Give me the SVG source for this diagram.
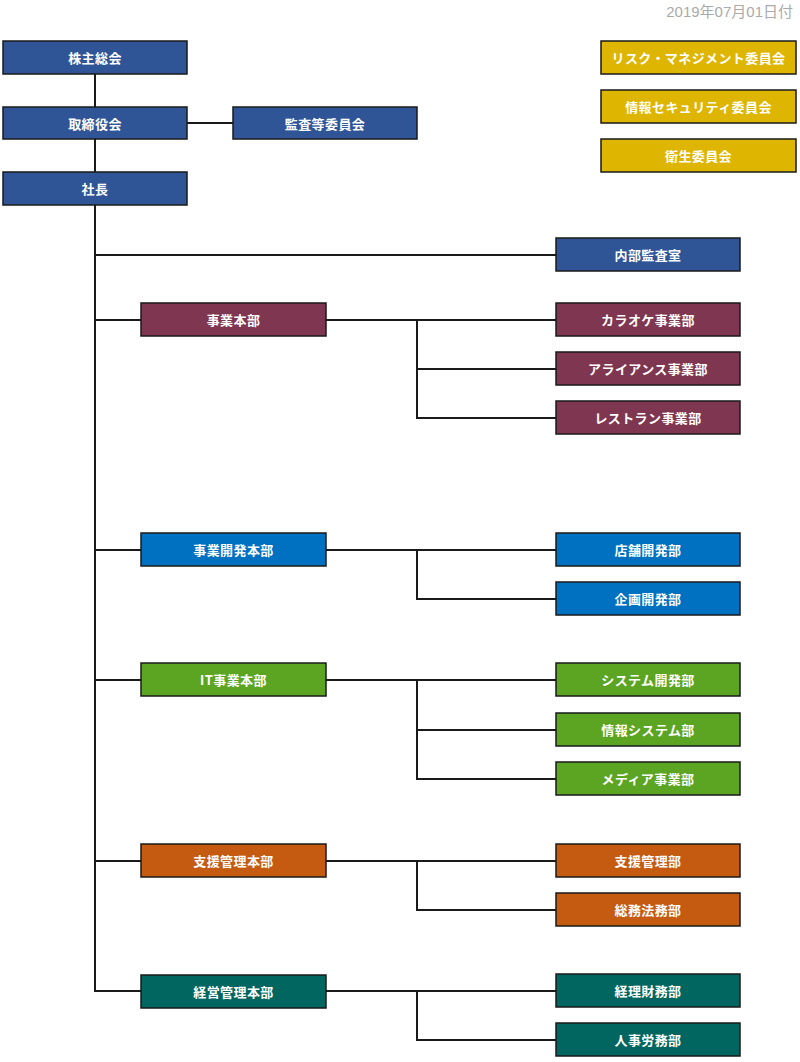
<svg xmlns="http://www.w3.org/2000/svg" width="800" height="1062" viewBox="0 0 800 1062">
<style>
.b{stroke:#1a1a1a;stroke-width:1.5}
.t{fill:#fff;font-family:"Noto Sans CJK JP","Noto Sans",sans-serif;font-size:13px;font-weight:bold;letter-spacing:0.4px;text-anchor:middle;dominant-baseline:central}
.navy{fill:#2F5597}.mar{fill:#7F3650}.blu{fill:#0070C0}.grn{fill:#5BA523}.org{fill:#C55A11}.tea{fill:#00665F}.yel{fill:#DEB500}
.c{stroke:#1a1a1a;stroke-width:2;fill:none}
</style>
<rect width="800" height="1062" fill="#fff"/>
<text x="793" y="11" font-family="'Liberation Sans','Noto Sans CJK JP',sans-serif" font-size="15" fill="#aaaaaa" text-anchor="end" dominant-baseline="central">2019年07月01日付</text>
<g id="connectors">
<path class="c" d="M95 74V107M95 139V172M187 123H233M95 205V991H141"/>
<path class="c" d="M95 255H556M95 320H141M95 550H141M95 680H141M95 861H141"/>
<path class="c" d="M326 320H556M417 320V418H556M417 369H556"/>
<path class="c" d="M326 550H556M417 550V599H556"/>
<path class="c" d="M326 680H556M417 680V779H556M417 730H556"/>
<path class="c" d="M326 861H556M417 861V910H556"/>
<path class="c" d="M326 991H556M417 991V1040H556"/>
</g>
<g id="n1"><rect class="b navy" x="3" y="41" width="184" height="33"/><text class="t" x="95" y="57.5">株主総会</text></g>
<g id="n2"><rect class="b navy" x="3" y="107" width="184" height="32"/><text class="t" x="95" y="123">取締役会</text></g>
<g id="n3"><rect class="b navy" x="233" y="107" width="184" height="32"/><text class="t" x="325" y="123">監査等委員会</text></g>
<g id="n4"><rect class="b navy" x="3" y="172" width="184" height="33"/><text class="t" x="95" y="188.5">社長</text></g>
<g id="y1"><rect class="b yel" x="601" y="41" width="195" height="33"/><text class="t" x="698.5" y="57.5">リスク・マネジメント委員会</text></g>
<g id="y2"><rect class="b yel" x="601" y="90" width="195" height="33"/><text class="t" x="698.5" y="106.5">情報セキュリティ委員会</text></g>
<g id="y3"><rect class="b yel" x="601" y="139" width="195" height="33"/><text class="t" x="698.5" y="155.5">衛生委員会</text></g>
<g id="n5"><rect class="b navy" x="556" y="238" width="184" height="33"/><text class="t" x="648" y="254.5">内部監査室</text></g>
<g id="d1"><rect class="b mar" x="141" y="303" width="185" height="33"/><text class="t" x="233.5" y="319.5">事業本部</text></g>
<g id="d1a"><rect class="b mar" x="556" y="303" width="184" height="33"/><text class="t" x="648" y="319.5">カラオケ事業部</text></g>
<g id="d1b"><rect class="b mar" x="556" y="352" width="184" height="33"/><text class="t" x="648" y="368.5">アライアンス事業部</text></g>
<g id="d1c"><rect class="b mar" x="556" y="401" width="184" height="33"/><text class="t" x="648" y="417.5">レストラン事業部</text></g>
<g id="d2"><rect class="b blu" x="141" y="533" width="185" height="33"/><text class="t" x="233.5" y="549.5">事業開発本部</text></g>
<g id="d2a"><rect class="b blu" x="556" y="533" width="184" height="33"/><text class="t" x="648" y="549.5">店舗開発部</text></g>
<g id="d2b"><rect class="b blu" x="556" y="582" width="184" height="33"/><text class="t" x="648" y="598.5">企画開発部</text></g>
<g id="d3"><rect class="b grn" x="141" y="663" width="185" height="33"/><text class="t" x="233.5" y="679.5">IT事業本部</text></g>
<g id="d3a"><rect class="b grn" x="556" y="663" width="184" height="33"/><text class="t" x="648" y="679.5">システム開発部</text></g>
<g id="d3b"><rect class="b grn" x="556" y="713" width="184" height="33"/><text class="t" x="648" y="729.5">情報システム部</text></g>
<g id="d3c"><rect class="b grn" x="556" y="762" width="184" height="33"/><text class="t" x="648" y="778.5">メディア事業部</text></g>
<g id="d4"><rect class="b org" x="141" y="844" width="185" height="33"/><text class="t" x="233.5" y="860.5">支援管理本部</text></g>
<g id="d4a"><rect class="b org" x="556" y="844" width="184" height="33"/><text class="t" x="648" y="860.5">支援管理部</text></g>
<g id="d4b"><rect class="b org" x="556" y="893" width="184" height="33"/><text class="t" x="648" y="909.5">総務法務部</text></g>
<g id="d5"><rect class="b tea" x="141" y="975" width="185" height="33"/><text class="t" x="233.5" y="991.5">経営管理本部</text></g>
<g id="d5a"><rect class="b tea" x="556" y="974" width="184" height="33"/><text class="t" x="648" y="990.5">経理財務部</text></g>
<g id="d5b"><rect class="b tea" x="556" y="1023" width="184" height="33"/><text class="t" x="648" y="1039.5">人事労務部</text></g>
</svg>
